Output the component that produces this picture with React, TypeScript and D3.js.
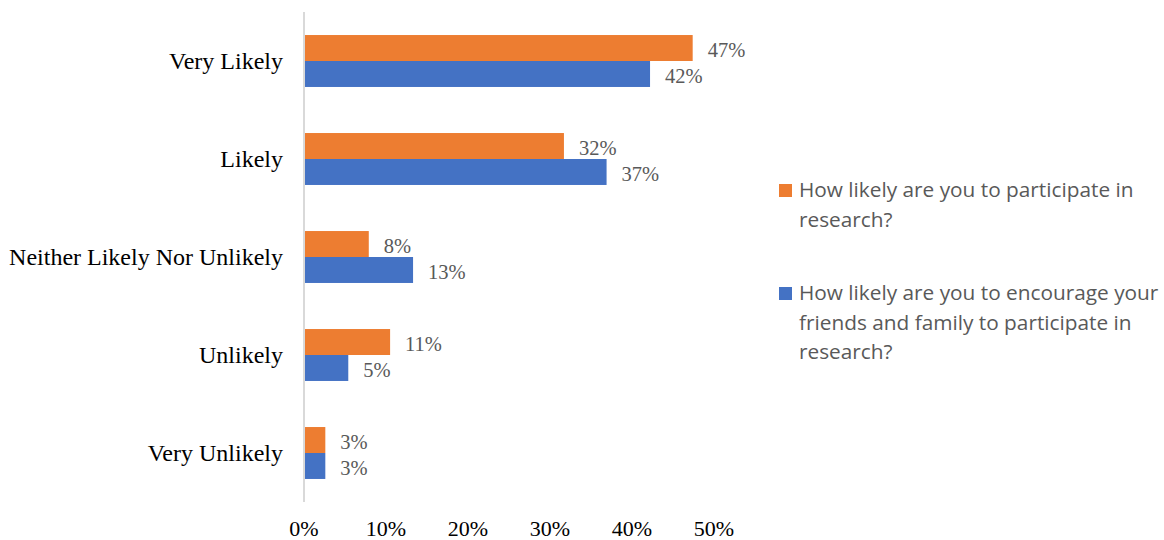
import React from "react";
import * as d3 from "d3";

const categories = ["Very Likely", "Likely", "Neither Likely Nor Unlikely", "Unlikely", "Very Unlikely"];
const seriesNames = [
  "How likely are you to participate in research?",
  "How likely are you to encourage your friends and family to participate in research?",
];
const participate = [0.474, 0.317, 0.079, 0.105, 0.026];
const encourage = [0.422, 0.369, 0.133, 0.054, 0.026];
const xTicks = [0, 0.1, 0.2, 0.3, 0.4, 0.5];
const colors = ["#ED7D31", "#4472C4"];
const legendLines = [
  ["How likely are you to participate in", "research?"],
  ["How likely are you to encourage your", "friends and family to participate in", "research?"],
];

export default function App() {
  const W = 1164, H = 540;
  const x = d3.scaleLinear().domain([0, 0.5]).range([304, 714]);
  const y = d3.scaleBand<string>().domain(categories).range([12, 502]).paddingInner(0.47).paddingOuter(0.235);
  const sub = d3.scaleBand<number>().domain([0, 1]).range([0, y.bandwidth()]);
  const series = [participate, encourage];
  const fmt = (v: number) => `${Math.round(v * 100)}%`;
  const serif = "'Liberation Serif', 'Times New Roman', serif";
  const sans = "'Open Sans', 'Noto Sans', sans-serif";
  const legendY = [197, 300];
  const lineH = 29.5;

  return (
    <svg width={W} height={H} style={{ position: "absolute", left: 0, top: 0, background: "#fff" }}>
      {series.map((vals, si) =>
        categories.map((c, ci) => {
          const y0 = (y(c) as number) + (sub(si) as number);
          return (
            <g key={`${si}-${ci}`}>
              <rect x={x(0)} y={y0} width={x(vals[ci]) - x(0)} height={sub.bandwidth()} fill={colors[si]} />
              <text x={x(vals[ci]) + 15} y={y0 + sub.bandwidth() / 2 + 1.5} dy="0.35em" fontFamily={serif} fontSize={20.5} fill="#595959">
                {fmt(vals[ci])}
              </text>
            </g>
          );
        })
      )}
      <line x1={x(0)} x2={x(0)} y1={12} y2={502} stroke="#d9d9d9" strokeWidth={2} />
      {categories.map((c) => (
        <text key={c} x={283} y={(y(c) as number) + y.bandwidth() / 2} dy="0.35em" textAnchor="end" fontFamily={serif} fontSize={24} fill="#000">
          {c}
        </text>
      ))}
      {xTicks.map((t) => (
        <text key={t} x={x(t)} y={536} textAnchor="middle" fontFamily={serif} fontSize={22} fill="#000">
          {fmt(t)}
        </text>
      ))}
      {legendLines.map((lines, li) => (
        <g key={li}>
          <rect x={779} y={legendY[li] - 13} width={13} height={13} fill={colors[li]} />
          {lines.map((ln, k) => (
            <text key={k} x={799} y={legendY[li] + k * lineH} fontFamily={sans} fontSize={20.8} fill="#595959">
              {ln}
            </text>
          ))}
        </g>
      ))}
      <title>{seriesNames.join(" / ")}</title>
    </svg>
  );
}
